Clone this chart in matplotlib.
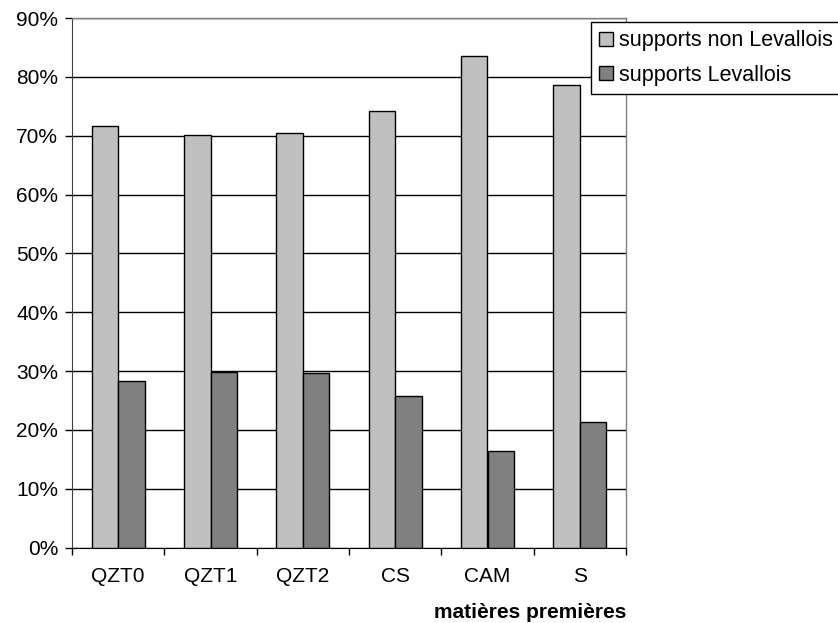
import numpy as np
import matplotlib
matplotlib.use("Agg")
import matplotlib.pyplot as plt
from matplotlib.ticker import FixedLocator, PercentFormatter

plt.rcParams['font.family'] = ['Liberation Sans', 'DejaVu Sans']

categories = ['QZT0', 'QZT1', 'QZT2', 'CS', 'CAM', 'S']
non_levallois = [71.7, 70.1, 70.4, 74.2, 83.6, 78.6]
levallois = [28.3, 29.9, 29.6, 25.8, 16.4, 21.4]
series_names = ['supports non Levallois', 'supports Levallois']

W, H = 838, 623
FS = 15
fig = plt.figure(figsize=(W / 100, H / 100), dpi=100)
ax = fig.add_axes([72 / W, 1 - 547.7 / H, (626 - 72) / W, (547.7 - 18) / H])

x = np.arange(len(categories))
bw = 0.287
ax.bar(x - bw / 2, non_levallois, bw, color='#C0C0C0', edgecolor='black', linewidth=1.0,
       label=series_names[0], zorder=3)
ax.bar(x + bw / 2, levallois, bw, color='#808080', edgecolor='black', linewidth=1.0,
       label=series_names[1], zorder=3)

ax.set_xlim(-0.5, len(categories) - 0.5)
ax.set_ylim(0, 90)
ax.set_yticks(np.arange(0, 91, 10))
ax.yaxis.set_major_formatter(PercentFormatter(decimals=0))
ax.yaxis.grid(True, color='black', linewidth=1.0, zorder=0)

ax.set_xticks(x)
ax.set_xticklabels(categories)
ax.xaxis.set_minor_locator(FixedLocator(np.arange(-0.5, len(categories), 1)))
ax.tick_params(axis='x', which='major', length=0, pad=14, labelsize=FS)
ax.tick_params(axis='x', which='minor', length=5, width=1, direction='out')
ax.tick_params(axis='y', length=5, width=1, direction='out', pad=5, labelsize=FS)

for s in ['top', 'right']:
    ax.spines[s].set_color('#808080')
    ax.spines[s].set_linewidth(1.0)
ax.spines['left'].set_color('#404040')
ax.spines['bottom'].set_color('black')

fig.text(530 / W, 1 - 612 / H, 'matières premières', ha='center', va='center',
         fontsize=FS, fontweight='bold')

leg = fig.legend(loc='upper left', bbox_to_anchor=(591 / W, 1 - 22 / H),
                 fontsize=15.5, frameon=True, fancybox=False, shadow=False,
                 edgecolor='black', framealpha=1, handlelength=0.63, handleheight=0.63,
                 handletextpad=0.3, borderpad=0.38, labelspacing=0.62, borderaxespad=0)
leg.get_frame().set_linewidth(1.0)

fig.savefig('out.png', dpi=100)
